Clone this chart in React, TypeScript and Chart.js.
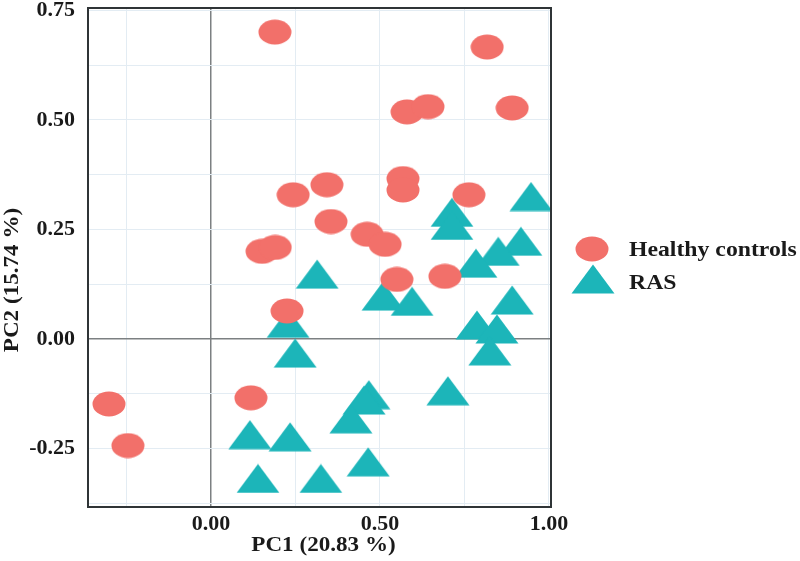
import React, { useEffect, useRef } from "react";
import { Chart, registerables } from "chart.js";

Chart.register(...registerables);

// Healthy controls (PC1, PC2)
const healthyPC1 = [0.189, 0.817, 0.580, 0.642, 0.891, 0.568, 0.568, 0.763, 0.343, 0.243, 0.355, 0.462, 0.515, 0.151, 0.190, 0.550, 0.692, 0.225, 0.118, -0.302, -0.246];
const healthyPC2 = [0.700, 0.666, 0.518, 0.530, 0.527, 0.366, 0.340, 0.329, 0.352, 0.329, 0.268, 0.239, 0.216, 0.200, 0.209, 0.136, 0.143, 0.064, -0.134, -0.148, -0.243];

// RAS (PC1, PC2)
const rasPC1 = [0.947, 0.713, 0.713, 0.917, 0.850, 0.784, 0.314, 0.509, 0.595, 0.891, 0.787, 0.846, 0.825, 0.228, 0.249, 0.701, 0.467, 0.453, 0.414, 0.234, 0.115, 0.465, 0.139, 0.325];
const rasPC2 = [0.325, 0.289, 0.259, 0.223, 0.200, 0.173, 0.148, 0.098, 0.086, 0.089, 0.032, 0.023, -0.027, 0.036, -0.032, -0.118, -0.127, -0.139, -0.182, -0.223, -0.218, -0.280, -0.318, -0.318];

const seriesNames = ["Healthy controls", "RAS"];
const xTicks = [-0.25, 0, 0.25, 0.5, 0.75, 1.0];
const xLabels = [0, 0.5, 1.0];
const yTicks = [-0.375, -0.25, -0.125, 0, 0.125, 0.25, 0.375, 0.5, 0.625, 0.75];
const yLabels = [-0.25, 0, 0.25, 0.5, 0.75];
const xTitle = "PC1 (20.83 %)";
const yTitle = "PC2 (15.74 %)";

const RED = "#F2706A";
const TEAL = "#1CB5B9";
const FONT = "'Liberation Serif', 'DejaVu Serif', serif";

function makeEllipse(): HTMLCanvasElement {
  const c = document.createElement("canvas");
  c.width = 34;
  c.height = 26;
  const g = c.getContext("2d")!;
  g.fillStyle = RED;
  g.beginPath();
  g.ellipse(17, 13, 16.5, 12.5, 0, 0, Math.PI * 2);
  g.fill();
  return c;
}

function makeTriangle(): HTMLCanvasElement {
  const c = document.createElement("canvas");
  c.width = 44;
  c.height = 30;
  const g = c.getContext("2d")!;
  g.fillStyle = TEAL;
  g.beginPath();
  g.moveTo(22, 0.5);
  g.lineTo(43.5, 29.5);
  g.lineTo(0.5, 29.5);
  g.closePath();
  g.fill();
  return c;
}

function wideText(ctx: CanvasRenderingContext2D, text: string, x: number, y: number, sx: number) {
  ctx.save();
  ctx.translate(x, y);
  ctx.scale(sx, 1);
  ctx.fillText(text, 0, 0);
  ctx.restore();
}

export default function App() {
  const ref = useRef<HTMLCanvasElement | null>(null);

  useEffect(() => {
    if (!ref.current) return;
    const ellipse = makeEllipse();
    const tri = makeTriangle();

    const decor = {
      id: "decor",
      afterDraw(chart: any) {
        const { ctx, chartArea } = chart;
        const { left, top, right, bottom } = chartArea;
        ctx.save();
        // frame
        ctx.strokeStyle = "#2f3436";
        ctx.lineWidth = 2;
        ctx.strokeRect(left, top, right - left, bottom - top);
        // axis titles
        ctx.fillStyle = "#1a1a1a";
        ctx.font = `bold 21px ${FONT}`;
        ctx.textAlign = "center";
        ctx.textBaseline = "middle";
        wideText(ctx, xTitle, (left + right) / 2 + 4, 546, 1.1);
        ctx.save();
        ctx.translate(13, 280);
        ctx.rotate(-Math.PI / 2);
        wideText(ctx, yTitle, 0, 0, 1.1);
        ctx.restore();
        // legend
        ctx.drawImage(ellipse, 592 - 17, 249 - 13);
        ctx.drawImage(tri, 593 - 22, 279 - 15);
        ctx.textAlign = "left";
        wideText(ctx, seriesNames[0], 629, 251, 1.13);
        wideText(ctx, seriesNames[1], 629, 284, 1.13);
        ctx.restore();
      },
    };

    const tickFont = { family: FONT, size: 22, weight: "bold" as const };
    const noPad = (s: any) => {
      s.paddingTop = 0;
      s.paddingBottom = 0;
      s.paddingLeft = 0;
      s.paddingRight = 0;
    };

    const chart = new Chart(ref.current, {
      type: "scatter",
      data: {
        datasets: [
          {
            label: seriesNames[0],
            data: healthyPC1.map((x, i) => ({ x, y: healthyPC2[i] })),
            pointStyle: ellipse as any,
            backgroundColor: RED,
          },
          {
            label: seriesNames[1],
            data: rasPC1.map((x, i) => ({ x, y: rasPC2[i] })),
            pointStyle: tri as any,
            backgroundColor: TEAL,
          },
        ],
      },
      plugins: [decor],
      options: {
        animation: false,
        responsive: false,
        events: [],
        layout: { autoPadding: false, padding: { top: 8, right: 249, left: 0, bottom: 0 } },
        plugins: { legend: { display: false }, tooltip: { enabled: false } },
        scales: {
          x: {
            type: "linear",
            min: -0.364,
            max: 1.006,
            afterBuildTicks: (s: any) => {
              s.ticks = xTicks.map((v) => ({ value: v }));
            },
            afterFit: (s: any) => {
              s.height = 54;
              noPad(s);
            },
            ticks: {
              autoSkip: false,
              maxRotation: 0,
              padding: 4,
              color: "#1a1a1a",
              font: tickFont,
              callback: (v: any) => (xLabels.includes(Number(v)) ? Number(v).toFixed(2) : ""),
            },
            grid: {
              drawTicks: false,
              color: (c: any) => (c.tick && c.tick.value === 0 ? "#7c8082" : "#E3ECF3"),
              lineWidth: (c: any) => (c.tick && c.tick.value === 0 ? 1.5 : 1),
            },
            border: { display: false },
          },
          y: {
            type: "linear",
            min: -0.383,
            max: 0.755,
            afterBuildTicks: (s: any) => {
              s.ticks = yTicks.map((v) => ({ value: v }));
            },
            afterFit: (s: any) => {
              s.width = 88;
              noPad(s);
            },
            ticks: {
              autoSkip: false,
              padding: 13,
              color: "#1a1a1a",
              font: tickFont,
              callback: (v: any) => (yLabels.includes(Number(v)) ? Number(v).toFixed(2) : ""),
            },
            grid: {
              drawTicks: false,
              color: (c: any) => (c.tick && c.tick.value === 0 ? "#7c8082" : "#E3ECF3"),
              lineWidth: (c: any) => (c.tick && c.tick.value === 0 ? 1.5 : 1),
            },
            border: { display: false },
          },
        },
      },
    });
    return () => chart.destroy();
  }, []);

  return (
    <div style={{ position: "fixed", left: 0, top: 0, width: 800, height: 561, background: "#fff" }}>
      <canvas ref={ref} width={800} height={561} style={{ width: 800, height: 561, display: "block" }} />
    </div>
  );
}
